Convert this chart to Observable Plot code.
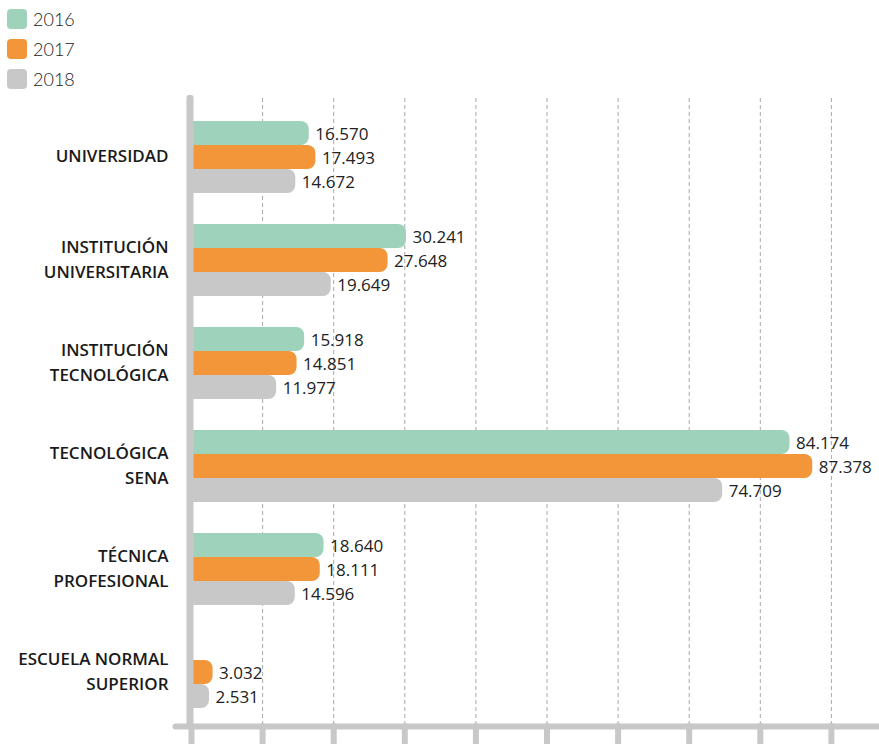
<!DOCTYPE html>
<html>
<head>
<meta charset="utf-8">
<script src="https://cdn.jsdelivr.net/npm/d3@7"></script>
<script src="https://cdn.jsdelivr.net/npm/@observablehq/plot@0.6"></script>
<style>
  html, body { margin: 0; padding: 0; background: #fff; }
  #legend { position: relative; height: 95px; width: 879px; font-family: Lato, "Open Sans", sans-serif; }
  .item { position: absolute; left: 7px; display: flex; align-items: center; height: 20px; }
  .sw { width: 20px; height: 20px; border-radius: 4px; }
  .lb { margin-left: 6px; font-size: 18px; color: #222; font-weight: 300; }
  #chart svg { display: block; }
</style>
</head>
<body>
<div id="legend"></div>
<div id="chart"></div>
<script>
const categories = [
  "UNIVERSIDAD",
  "INSTITUCIÓN\nUNIVERSITARIA",
  "INSTITUCIÓN\nTECNOLÓGICA",
  "TECNOLÓGICA\nSENA",
  "TÉCNICA\nPROFESIONAL",
  "ESCUELA NORMAL\nSUPERIOR"
];
const years = ["2016", "2017", "2018"];
const values2016 = [16570, 30241, 15918, 84174, 18640, null];
const values2017 = [17493, 27648, 14851, 87378, 18111, 3032];
const values2018 = [14672, 19649, 11977, 74709, 14596, 2531];
const xTicks = [0, 10000, 20000, 30000, 40000, 50000, 60000, 70000, 80000, 90000];
const colors = ["#9ed2bb", "#f39539", "#c8c8c8"];

const series = [values2016, values2017, values2018];
const rows = [];
series.forEach((vals, s) => vals.forEach((v, i) => {
  if (v != null) rows.push({category: categories[i], year: years[s], value: v, s});
}));

const fmt = d3.formatLocale({decimal: ",", thousands: ".", grouping: [3], currency: ["", ""]}).format(",");

// legend
const legend = document.getElementById("legend");
years.forEach((y, i) => {
  const it = document.createElement("div");
  it.className = "item";
  it.style.top = (9 + 30 * i) + "px";
  it.innerHTML = `<div class="sw" style="background:${colors[i]}"></div><div class="lb">${y}</div>`;
  legend.appendChild(it);
});

const axisColor = "#c8c8c8";
const barH = 24;
const marks = [
  Plot.ruleX(xTicks.slice(1), {stroke: "#a8a8a8", strokeWidth: 1, strokeDasharray: "4,3"}),
];
series.forEach((vals, s) => {
  const data = rows.filter(d => d.s === s);
  const insetTop = s * barH, insetBottom = (2 - s) * barH;
  marks.push(
    Plot.barX(data, {x: "value", y: "category", fill: colors[s], rx: 8, insetTop, insetBottom}),
    Plot.barX(data, {x1: 0, x2: d => d.value / 2, y: "category", fill: colors[s], insetTop, insetBottom}),
    Plot.text(data, {x: "value", y: "category", text: d => fmt(d.value), dy: (s - 1) * barH + 1, dx: 6,
      textAnchor: "start", fill: "#222", fontSize: 17, fontFamily: "'Open Sans', sans-serif"})
  );
});
marks.push(
  Plot.text(categories, {y: d => d, text: d => d, frameAnchor: "left", dx: -23, dy: -3, textAnchor: "end",
    lineHeight: 1.45, fontSize: 17, fontWeight: 600, fill: "#1a1a1a", fontFamily: "'Open Sans', sans-serif"}),
  Plot.frame({anchor: "bottom", stroke: axisColor, strokeWidth: 6, strokeLinecap: "round", insetLeft: -16}),
  Plot.axisX(xTicks, {tickSize: 18, stroke: axisColor, strokeWidth: 6, strokeLinecap: "round", tickFormat: null, text: null, label: null}),
  Plot.ruleX([0], {stroke: axisColor, strokeWidth: 7, strokeLinecap: "round", dx: -1.5})
);

const chart = Plot.plot({
  width: 879,
  height: 649,
  marginLeft: 191,
  marginRight: 0,
  marginTop: 3,
  marginBottom: 18,
  x: {domain: [0, 96765], axis: null, label: null},
  y: {type: "band", domain: categories, range: [25, 614], paddingInner: 0.305, paddingOuter: 0, axis: null},
  style: {fontFamily: "'Open Sans', sans-serif", background: "#fff"},
  marks
});
document.getElementById("chart").appendChild(chart);
</script>
</body>
</html>
